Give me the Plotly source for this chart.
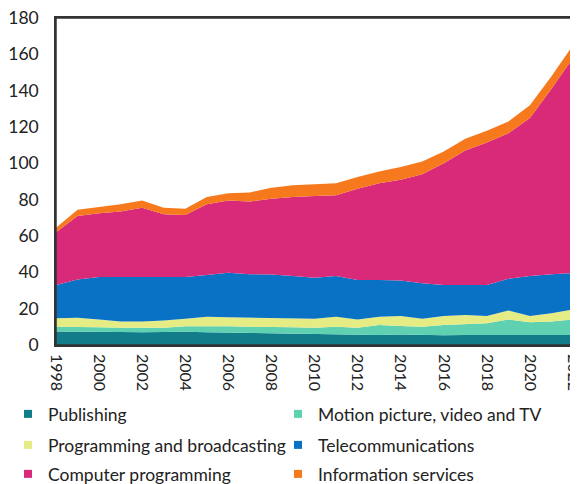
import plotly.graph_objects as go

# years on the x axis
years = list(range(1998, 2023))

# stacked series
publishing = [7.5, 7.5, 7.3, 7.2, 7.0, 7.2, 7.3, 7.0, 6.8, 6.5, 6.3, 6.2, 6.0,
              5.5, 5.3, 5.5, 5.8, 5.5, 5.3, 5.5, 5.5, 5.5, 5.3, 5.5, 5.5]
motion_picture = [2.5, 2.5, 2.5, 2.3, 2.3, 2.3, 3.0, 3.5, 3.5, 3.5, 3.7, 3.6, 3.5,
                  4.5, 4.2, 5.5, 4.7, 4.5, 5.7, 6.0, 6.5, 8.5, 7.2, 7.5, 8.5]
programming = [4.7, 5.0, 4.2, 3.5, 3.7, 4.0, 4.2, 5.0, 5.0, 5.0, 5.0, 5.0, 5.0,
               5.5, 4.5, 4.5, 5.5, 4.5, 5.0, 5.0, 4.0, 5.0, 3.5, 4.5, 5.5]
telecom = [18.3, 21.0, 23.5, 24.5, 24.5, 23.8, 23.0, 23.0, 24.5, 24.0, 23.8, 23.2, 22.5,
           22.5, 21.8, 20.3, 19.5, 19.5, 17.0, 16.5, 17.0, 17.5, 22.0, 21.5, 20.0]
computer = [29.0, 35.0, 35.0, 36.0, 38.0, 34.7, 34.0, 39.0, 39.7, 40.0, 41.7, 43.5, 45.0,
            44.5, 50.2, 53.2, 55.5, 60.0, 67.0, 74.0, 78.5, 80.0, 87.0, 102.0, 118.5]
info_services = [2.5, 3.5, 3.5, 4.0, 4.0, 3.5, 3.5, 4.0, 4.0, 5.0, 6.0, 6.5, 6.5,
                 6.5, 6.5, 6.5, 7.0, 7.0, 6.5, 6.5, 6.5, 6.5, 7.0, 7.0, 7.0]

names = ["Publishing", "Motion picture, video and TV", "Programming and broadcasting",
         "Telecommunications", "Computer programming", "Information services"]
series = [publishing, motion_picture, programming, telecom, computer, info_services]
colors = ["#137c8b", "#5fd0b0", "#e6ec84", "#0a72c4", "#d92a79", "#f7791d"]

# the page body adds an 8px offset, so the figure is a bit smaller than the window
W, H = 570, 476

fig = go.Figure()

for name, vals, col in zip(names, series, colors):
    fig.add_trace(go.Scatter(
        x=years, y=vals, name=name, stackgroup="one",
        mode="lines", line=dict(width=0, color=col),
        fillcolor=col, showlegend=False,
    ))

# one small legend per entry so the two-column grid sits where the reference has it
legend_pos = [(0, 406), (270, 406), (0, 437), (270, 437), (0, 466), (270, 466)]
legend_style = dict(
    orientation="h", xref="container", yref="container",
    xanchor="left", yanchor="middle", itemwidth=30,
    font=dict(family="Lato", size=17.5, color="#222222"),
    bgcolor="rgba(0,0,0,0)",
)
legends = {}
for i, (name, col, (lx, ly)) in enumerate(zip(names, colors, legend_pos)):
    lid = "legend" if i == 0 else "legend%d" % (i + 1)
    legends[lid] = dict(legend_style, x=lx / W, y=1 - ly / H)
    fig.add_trace(go.Scatter(
        x=[None], y=[None], name=name, mode="markers",
        marker=dict(symbol="square", size=8, color=col),
        legend=lid, showlegend=True,
    ))

# frame round the plot area
fig.add_shape(type="rect", xref="paper", yref="paper", x0=0, x1=1, y0=0, y1=1,
              line=dict(color="#333333", width=1.5), layer="above")

fig.update_layout(
    width=W, height=H,
    margin=dict(l=48, r=5, t=10, b=139, autoexpand=False),
    paper_bgcolor="white", plot_bgcolor="white",
    font=dict(family="Lato", size=17, color="#222222"),
    xaxis=dict(
        range=[1998, 2022], dtick=2, tick0=1998, tickangle=90,
        showline=True, linecolor="#333333", linewidth=1.5, mirror=True,
        showgrid=False, zeroline=False, ticks="", ticklabeloverflow="allow",
        ticklabelstandoff=4,
        tickfont=dict(family="Lato", size=16, color="#222222"),
    ),
    yaxis=dict(
        range=[0, 180], dtick=20,
        showline=True, linecolor="#333333", linewidth=1.5, mirror=True,
        showgrid=False, zeroline=False, ticks="", ticklabelstandoff=12,
        ticklabeloverflow="allow",
        tickfont=dict(family="Lato", size=17.5, color="#222222"),
    ),
    **legends,
)

fig.write_html("out.html")
